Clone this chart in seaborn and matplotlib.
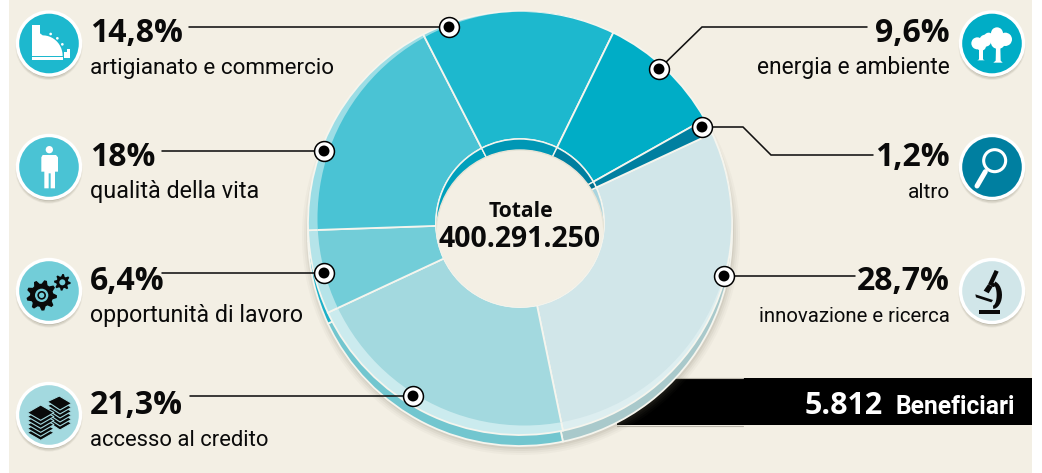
import numpy as np
import seaborn as sns
import matplotlib
matplotlib.use("Agg")
import matplotlib.pyplot as plt
from matplotlib.patches import Circle, Rectangle, Polygon

# ---- data ----
categories = ["innovazione e ricerca", "accesso al credito", "opportunità di lavoro",
              "qualità della vita", "artigianato e commercio", "energia e ambiente", "altro"]
shares = [28.7, 21.3, 6.4, 18.0, 14.8, 9.6, 1.2]
share_labels = ["28,7%", "21,3%", "6,4%", "18%", "14,8%", "9,6%", "1,2%"]
total_title = "Totale"
total_value = "400.291.250"
benef_value = "5.812"
benef_label = "Beneficiari"

# ---- style ----
top_colors = ["#D1E6E9", "#A3D9DF", "#72CDD8", "#4AC3D4", "#1DB8CE", "#00ADC6", "#007FA0"]
rim_colors = ["#DDEEF0", "#CBEBEE", "#B5E4E9", "#9CDDE5", "#8FD9E3", "#8FD9E3", "#4FA9C0"]
wall_colors = ["#A9C9CB", "#72C6CF", "#1DB0C8", "#1DB0C8", "#0097B5", "#007FA0", "#006F8E"]
inner_colors = ["#A9D4DE", "#72C6CF", "#1DB0C8", "#00A0BC", "#0097B5", "#007FA0", "#006F8E"]
CREAM = "#F3EFE4"
INK = "#0A0A0A"
NARROW = ["Roboto", "DejaVu Sans"]
BOLD = ["Open Sans", "DejaVu Sans"]

sns.set_theme(style="white")
plt.rcParams["font.family"] = BOLD

W, H = 1042, 473
fig = plt.figure(figsize=(W / 100, H / 100), dpi=100, facecolor="white")
ax = fig.add_axes([0, 0, 1, 1])
Y = lambda y: H - y
CX, CY, R, RIN = 520, 223, 212, 84
START = 25

ax.add_patch(Rectangle((9, 0), 1023, H, fc=CREAM, ec="none", zorder=0))

# black band behind the pie
ax.add_patch(Rectangle((617, Y(425)), 415, 47, fc="#000000", ec="none", zorder=1))
ax.plot([617, 743], [Y(377.5), Y(377.5)], color="#B9B5AA", lw=.8, zorder=1)
ax.plot([617, 743], [Y(425.5), Y(425.5)], color="#B9B5AA", lw=.8, zorder=1)

# soft shadow
for grow, al in zip([7, 5, 3, 1], [.04, .05, .07, .09]):
    ax.add_patch(Circle((CX + 1, Y(CY + 13)), R + grow, fc="#6F6A55", alpha=al, ec="none", zorder=1.5))


def donut(colors, center, radius, width=None, z=2, lw=1.3, clip=None):
    wp = dict(edgecolor="#F5F5EE", linewidth=lw)
    if width is not None:
        wp["width"] = width
    wedges, _ = ax.pie(shares, colors=sns.color_palette(colors), center=center, radius=radius,
                       startangle=START, counterclock=False, wedgeprops=wp, frame=True,
                       normalize=True)
    for w in wedges:
        w.set_zorder(z)
        if clip is not None:
            w.set_clip_on(True)
            w.set_clip_path(clip)
    return wedges


# side wall, bevel rim, top face
donut(wall_colors, (CX, Y(CY + 11)), R, width=R - RIN, z=2)
donut(rim_colors, (CX, Y(CY)), R, width=R - RIN, z=3)
face_clip = Circle((524.5, Y(218.5)), 207, transform=ax.transData)
donut(top_colors, (CX, Y(CY)), R, width=R - RIN, z=4, clip=face_clip)

# inner wall and hole
donut(inner_colors, (CX, Y(CY)), RIN, z=5, lw=1.0)
hole_clip = Circle((CX, Y(CY)), RIN, transform=ax.transData)
hole = Circle((CX, Y(CY + 11)), RIN, fc=CREAM, ec="#E8E4D6", lw=1, zorder=6)
ax.add_patch(hole)
hole.set_clip_path(hole_clip)

# centre text
ax.text(521, Y(217), total_title, ha="center", va="baseline", fontsize=15.2, weight="bold",
        color=INK, zorder=8)
ax.text(520, Y(247), total_value, ha="center", va="baseline", fontsize=20.4, weight="bold",
        color=INK, zorder=8)

# band text
ax.text(805, Y(414), benef_value, ha="left", va="baseline", fontsize=22, weight="bold",
        color="white", zorder=8)
ax.text(1015, Y(414), benef_label, ha="right", va="baseline", fontsize=17.7, weight="bold",
        family=NARROW, color="white", zorder=8)

# callouts
callouts = {
    "artigianato e commercio": [(189, 27), (449, 27)],
    "qualità della vita": [(162, 151), (324, 151)],
    "opportunità di lavoro": [(162, 273), (324, 273)],
    "accesso al credito": [(190, 396), (413, 396)],
    "energia e ambiente": [(867, 27), (702, 27), (659, 69)],
    "altro": [(873, 155), (771, 155), (743, 127), (702, 127)],
    "innovazione e ricerca": [(855, 276), (724, 276)],
}
for c, pts in callouts.items():
    xs, ys = zip(*pts)
    ax.plot(xs, [Y(v) for v in ys], color="#111111", lw=1.15, zorder=7, solid_joinstyle="miter")
    ax.scatter([xs[-1]], [Y(ys[-1])], s=205, fc="white", ec="#000000", lw=1.1, zorder=9)
    ax.scatter([xs[-1]], [Y(ys[-1])], s=62, fc="#000000", ec="none", zorder=10)

# value + label text
rows_left = {"artigianato e commercio": (42, 74), "qualità della vita": (166, 198),
             "opportunità di lavoro": (290, 322), "accesso al credito": (414, 446)}
rows_right = {"energia e ambiente": (42, 74), "altro": (166, 198), "innovazione e ricerca": (290, 322)}
lab = dict(zip(categories, share_labels))
VAL_FS = 23
LAB_FS = {"artigianato e commercio": 16.2, "qualità della vita": 16.8, "opportunità di lavoro": 16.7,
          "accesso al credito": 15.8, "energia e ambiente": 16.4, "altro": 15, "innovazione e ricerca": 14.7}
for c, (b1, b2) in rows_left.items():
    ax.text(90, Y(b1), lab[c], ha="left", va="baseline", fontsize=VAL_FS, weight="bold", color=INK, zorder=8)
    ax.text(90, Y(b2), c, ha="left", va="baseline", fontsize=LAB_FS[c], family=NARROW, color=INK, zorder=8)
for c, (b1, b2) in rows_right.items():
    ax.text(950, Y(b1), lab[c], ha="right", va="baseline", fontsize=VAL_FS, weight="bold", color=INK, zorder=8)
    ax.text(950, Y(b2), c, ha="right", va="baseline", fontsize=LAB_FS[c], family=NARROW, color=INK, zorder=8)

# icon badges
badge_pos = {"artigianato e commercio": (49, 43.5), "qualità della vita": (49, 167),
             "opportunità di lavoro": (49, 291), "accesso al credito": (49, 415),
             "energia e ambiente": (992, 43.5), "altro": (992, 167), "innovazione e ricerca": (992, 291)}
col = dict(zip(categories, top_colors))
for c, (x, y) in badge_pos.items():
    for g, al in zip([3.5, 2.5, 1], [.08, .12, .2]):
        ax.add_patch(Circle((x, Y(y + 3)), 32 + g - 2, fc="#5E5A48", alpha=al, ec="none", zorder=7))
    ax.add_patch(Circle((x, Y(y)), 33.2, fc="white", ec="none", zorder=7.2))
    ax.add_patch(Circle((x, Y(y)), 29.8, fc=col[c], ec="none", zorder=7.3))


def poly(zpts, ox, oy, fc, z=7.5, ec="none", lw=0):
    """zpts are positions in the 3x zoomed frame of the icon panel."""
    p = [(ox + a / 3, Y(oy + b / 3)) for a, b in zpts]
    ax.add_patch(Polygon(p, closed=True, fc=fc, ec=ec, lw=lw, zorder=z))


def dot(a, b, r, ox, oy, fc, z=7.5):
    ax.add_patch(Circle((ox + a / 3, Y(oy + b / 3)), r / 3, fc=fc, ec="none", zorder=z))


# cash register
poly([(96, 75), (120, 75), (120, 100), (128, 106)] +
     [(128 + 60 * np.sin(u), 168 - 62 * np.cos(u)) for u in np.linspace(0, 1.45, 12)] +
     [(188, 168), (96, 168)], 0, 0, "white")
poly([(96, 172), (188, 172), (188, 179), (96, 179)], 0, 0, "white")
poly([(192, 155), (200, 155), (200, 146), (209, 146), (209, 175), (192, 175)], 0, 0, "white")
poly([(121, 80), (127, 80), (127, 100), (121, 100)], 0, 0, col["artigianato e commercio"], z=7.6)
for a, b in [(152, 102), (172, 115), (187, 133)]:
    dot(a, b, 4, 0, 0, "white")

# person
dot(148, 449, 11, 0, 0, "white")
poly([(128, 465), (168, 465), (174, 472), (174, 515), (165, 515), (165, 565), (152, 565), (152, 520), (146, 520),
      (146, 565), (133, 565), (133, 515), (124, 515), (124, 472)], 0, 0, "white")


# gears
def gear(cx, cy, ro, ri, n):
    a = np.linspace(0, 2 * np.pi, n * 4, endpoint=False)
    r = np.tile([ro, ro, ri, ri], n)
    poly([(cx + q * np.cos(u), cy + q * np.sin(u)) for q, u in zip(r, a)], 0, 240, "#0A0A0A")


gear(125, 166, 46, 35, 9)
dot(125, 166, 20, 0, 240, "#72CDD8", z=7.6)
dot(125, 166, 13, 0, 240, "#0A0A0A", z=7.65)
dot(125, 166, 8, 0, 240, "#72CDD8", z=7.8)
gear(187, 127, 25, 18, 8)
dot(187, 127, 9, 0, 240, "#72CDD8", z=7.6)

# money stacks
for k in range(5, -1, -1):
    d = 12 * k
    poly([(142, 485 + d), (178, 468 + d), (215, 490 + d), (180, 510 + d)], 0, 240, "#0A0A0A", z=7.5 + (5 - k) * .01,
         ec="#A3D9DF", lw=.8)
for k in range(5, -1, -1):
    d = 12 * k
    poly([(82, 518 + d), (122, 495 + d), (162, 518 + d), (122, 541 + d)], 0, 240, "#0A0A0A", z=7.6 + (5 - k) * .01,
         ec="#A3D9DF", lw=.8)

# trees
for a, b, r in [(856, 130, 18), (880, 122, 18), (890, 112, 14), (915, 100, 18), (940, 118, 20), (918, 125, 22), (868, 138, 14)]:
    dot(a, b, r, 692, 0, "white")
poly([(861, 140), (873, 140), (873, 178), (878, 181), (856, 181), (861, 178)], 692, 0, "white")
poly([(912, 140), (925, 140), (926, 182), (932, 188), (904, 188), (911, 182)], 692, 0, "white")

# magnifier
ax.add_patch(Circle((692 + 908 / 3, Y(482 / 3)), 11, fc="none", ec="white", lw=2.2, zorder=7.5))
ax.plot([692 + 880 / 3, 692 + 855 / 3], [Y(515 / 3), Y(558 / 3)], color="white", lw=3.6, zorder=7.5,
        solid_capstyle="round")

# microscope
poly([(862, 211), (925, 211), (925, 222), (862, 222)], 692, 240, "#0A0A0A")
poly([(908, 90), (920, 95), (900, 138), (888, 133)], 692, 240, "#0A0A0A")
poly([(888, 133), (902, 140), (890, 160), (875, 152)], 692, 240, "#0A0A0A")
poly([(850, 163), (903, 180), (898, 187), (852, 172)], 692, 240, "#0A0A0A")
ang = np.linspace(-1.3, 1.5, 14)
poly([(902 + 28 * np.cos(u), 165 + 42 * np.sin(u)) for u in ang] +
     [(902 + 12 * np.cos(u), 165 + 32 * np.sin(u)) for u in ang[::-1]], 692, 240, "#0A0A0A")
dot(904, 135, 6, 692, 240, "#0A0A0A")

ax.set_xlim(0, W)
ax.set_ylim(0, H)
ax.set_aspect("equal")
ax.axis("off")
sns.despine(ax=ax, left=True, bottom=True)
fig.savefig("out.png", dpi=100, facecolor="white")
